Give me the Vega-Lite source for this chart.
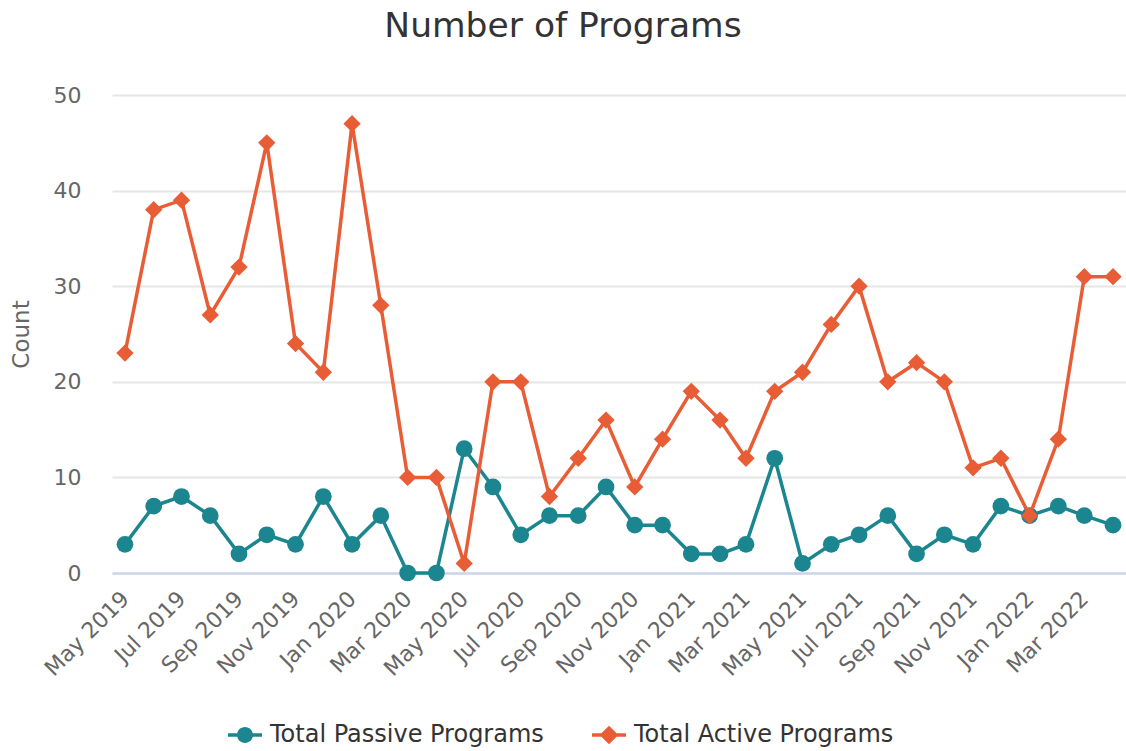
{
  "$schema": "https://vega.github.io/schema/vega-lite/v6.json",
  "width": 1014,
  "height": 478,
  "autosize": {"type": "none"},
  "padding": {"left": 112, "top": 95, "right": 0, "bottom": 178},
  "background": "white",
  "config": {"view": {"stroke": null}, "font": "DejaVu Sans"},
  "title": {"text": "Number of Programs", "font": "DejaVu Sans", "fontSize": 34.5, "fontWeight": "normal", "color": "#333333", "anchor": "middle", "dx": -56, "offset": 40},
  "data": {"values": [
    {"month": "2019-05-01", "Total Passive Programs": 3, "Total Active Programs": 23},
    {"month": "2019-06-01", "Total Passive Programs": 7, "Total Active Programs": 38},
    {"month": "2019-07-01", "Total Passive Programs": 8, "Total Active Programs": 39},
    {"month": "2019-08-01", "Total Passive Programs": 6, "Total Active Programs": 27},
    {"month": "2019-09-01", "Total Passive Programs": 2, "Total Active Programs": 32},
    {"month": "2019-10-01", "Total Passive Programs": 4, "Total Active Programs": 45},
    {"month": "2019-11-01", "Total Passive Programs": 3, "Total Active Programs": 24},
    {"month": "2019-12-01", "Total Passive Programs": 8, "Total Active Programs": 21},
    {"month": "2020-01-01", "Total Passive Programs": 3, "Total Active Programs": 47},
    {"month": "2020-02-01", "Total Passive Programs": 6, "Total Active Programs": 28},
    {"month": "2020-03-01", "Total Passive Programs": 0, "Total Active Programs": 10},
    {"month": "2020-04-01", "Total Passive Programs": 0, "Total Active Programs": 10},
    {"month": "2020-05-01", "Total Passive Programs": 13, "Total Active Programs": 1},
    {"month": "2020-06-01", "Total Passive Programs": 9, "Total Active Programs": 20},
    {"month": "2020-07-01", "Total Passive Programs": 4, "Total Active Programs": 20},
    {"month": "2020-08-01", "Total Passive Programs": 6, "Total Active Programs": 8},
    {"month": "2020-09-01", "Total Passive Programs": 6, "Total Active Programs": 12},
    {"month": "2020-10-01", "Total Passive Programs": 9, "Total Active Programs": 16},
    {"month": "2020-11-01", "Total Passive Programs": 5, "Total Active Programs": 9},
    {"month": "2020-12-01", "Total Passive Programs": 5, "Total Active Programs": 14},
    {"month": "2021-01-01", "Total Passive Programs": 2, "Total Active Programs": 19},
    {"month": "2021-02-01", "Total Passive Programs": 2, "Total Active Programs": 16},
    {"month": "2021-03-01", "Total Passive Programs": 3, "Total Active Programs": 12},
    {"month": "2021-04-01", "Total Passive Programs": 12, "Total Active Programs": 19},
    {"month": "2021-05-01", "Total Passive Programs": 1, "Total Active Programs": 21},
    {"month": "2021-06-01", "Total Passive Programs": 3, "Total Active Programs": 26},
    {"month": "2021-07-01", "Total Passive Programs": 4, "Total Active Programs": 30},
    {"month": "2021-08-01", "Total Passive Programs": 6, "Total Active Programs": 20},
    {"month": "2021-09-01", "Total Passive Programs": 2, "Total Active Programs": 22},
    {"month": "2021-10-01", "Total Passive Programs": 4, "Total Active Programs": 20},
    {"month": "2021-11-01", "Total Passive Programs": 3, "Total Active Programs": 11},
    {"month": "2021-12-01", "Total Passive Programs": 7, "Total Active Programs": 12},
    {"month": "2022-01-01", "Total Passive Programs": 6, "Total Active Programs": 6},
    {"month": "2022-02-01", "Total Passive Programs": 7, "Total Active Programs": 14},
    {"month": "2022-03-01", "Total Passive Programs": 6, "Total Active Programs": 31},
    {"month": "2022-04-01", "Total Passive Programs": 5, "Total Active Programs": 31}
  ]},
  "transform": [
    {"fold": ["Total Passive Programs", "Total Active Programs"], "as": ["series", "count"]}
  ],
  "encoding": {
    "x": {
      "field": "month",
      "type": "temporal",
      "scale": {"type": "utc", "domain": [
        {"year": 2019, "month": 4, "date": 17, "utc": true},
        {"year": 2022, "month": 4, "date": 15, "utc": true}
      ]},
      "axis": {
        "title": null,
        "values": [
          {"year": 2019, "month": 5, "date": 1, "utc": true},
          {"year": 2019, "month": 7, "date": 1, "utc": true},
          {"year": 2019, "month": 9, "date": 1, "utc": true},
          {"year": 2019, "month": 11, "date": 1, "utc": true},
          {"year": 2020, "month": 1, "date": 1, "utc": true},
          {"year": 2020, "month": 3, "date": 1, "utc": true},
          {"year": 2020, "month": 5, "date": 1, "utc": true},
          {"year": 2020, "month": 7, "date": 1, "utc": true},
          {"year": 2020, "month": 9, "date": 1, "utc": true},
          {"year": 2020, "month": 11, "date": 1, "utc": true},
          {"year": 2021, "month": 1, "date": 1, "utc": true},
          {"year": 2021, "month": 3, "date": 1, "utc": true},
          {"year": 2021, "month": 5, "date": 1, "utc": true},
          {"year": 2021, "month": 7, "date": 1, "utc": true},
          {"year": 2021, "month": 9, "date": 1, "utc": true},
          {"year": 2021, "month": 11, "date": 1, "utc": true},
          {"year": 2022, "month": 1, "date": 1, "utc": true},
          {"year": 2022, "month": 3, "date": 1, "utc": true}
        ],
        "format": "%b %Y",
        "labelAngle": -45,
        "labelAlign": "right",
        "labelBaseline": "middle",
        "labelFont": "DejaVu Sans",
        "labelFontSize": 22,
        "labelColor": "#666666",
        "labelPadding": 22,
        "labelOverlap": false,
        "labelFlush": false,
        "ticks": false,
        "grid": false,
        "domainColor": "#ccd6eb",
        "domainWidth": 2.5
      }
    },
    "y": {
      "field": "count",
      "type": "quantitative",
      "scale": {"domain": [0, 50], "nice": false},
      "axis": {
        "values": [0, 10, 20, 30, 40, 50],
        "title": "Count",
        "titleFont": "DejaVu Sans",
        "titleFontSize": 23,
        "titleFontWeight": "normal",
        "titleColor": "#666666",
        "titlePadding": 20,
        "labelFont": "DejaVu Sans",
        "labelFontSize": 22,
        "labelColor": "#666666",
        "labelPadding": 31,
        "ticks": false,
        "domain": false,
        "gridColor": "#e6e6e6",
        "gridWidth": 2
      }
    },
    "color": {
      "field": "series",
      "type": "nominal",
      "scale": {"domain": ["Total Passive Programs", "Total Active Programs"], "range": ["#1b868f", "#e85d35"]},
      "legend": {
        "title": null,
        "orient": "none",
        "legendX": 116,
        "legendY": 623,
        "direction": "horizontal",
        "padding": 0,
        "symbolSize": 1156,
        "symbolStrokeWidth": 0,
        "labelFont": "DejaVu Sans",
        "labelFontSize": 24,
        "labelColor": "#333333",
        "labelLimit": 600,
        "labelOffset": 8,
        "columnPadding": 48,
        "encode": {
          "symbols": {
            "update": {
              "shape": {"signal": "datum.value === 'Total Passive Programs' ? 'M-1,-0.1H1V0.1H-1Z M0.47,0A0.47,0.47,0,1,1,-0.47,0A0.47,0.47,0,1,1,0.47,0Z' : 'M-1,-0.1H1V0.1H-1Z M0,-0.55L0.55,0L0,0.55L-0.55,0Z'"},
              "fill": {"scale": "color", "field": "value"},
              "opacity": {"value": 1},
              "strokeWidth": {"value": 0}
            }
          }
        }
      }
    }
  },
  "layer": [
    {
      "transform": [{"filter": "datum.series === 'Total Passive Programs'"}],
      "mark": {"type": "line", "strokeWidth": 3.5}
    },
    {
      "transform": [{"filter": "datum.series === 'Total Passive Programs'"}],
      "mark": {"type": "point", "shape": "circle", "filled": true, "size": 280, "opacity": 1}
    },
    {
      "transform": [{"filter": "datum.series === 'Total Active Programs'"}],
      "mark": {"type": "line", "strokeWidth": 3.5}
    },
    {
      "transform": [{"filter": "datum.series === 'Total Active Programs'"}],
      "mark": {"type": "point", "shape": "diamond", "filled": true, "size": 300, "opacity": 1}
    }
  ]
}
